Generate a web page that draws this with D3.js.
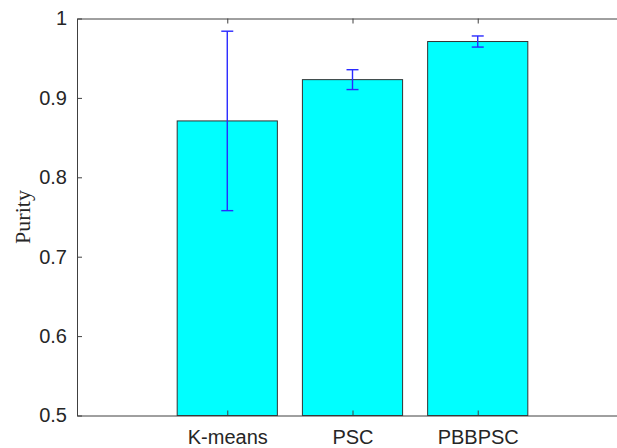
<!DOCTYPE html>
<html>
<head>
<meta charset="utf-8">
<script src="https://cdn.jsdelivr.net/npm/d3@7"></script>
<style>
  body { margin: 0; background: #fff; }
  svg { display: block; }
</style>
</head>
<body>
<div id="chart"></div>
<script>
// Data
const methods = ["K-means", "PSC", "PBBPSC"];
const purity = [0.871, 0.923, 0.971];
const purityStd = [0.113, 0.0125, 0.007];
const yTicks = [0.5, 0.6, 0.7, 0.8, 0.9, 1];

const W = 617, H = 448;
const margin = { top: 18.5, right: -11, bottom: 32.5, left: 77 };
const width = W - margin.left - margin.right;
const height = H - margin.top - margin.bottom;

const svg = d3.select("#chart")
    .append("svg")
    .attr("width", W)
    .attr("height", H);

const g = svg.append("g")
    .attr("transform", "translate(" + margin.left + "," + margin.top + ")");

// x is a position scale over 1..3 (MATLAB-style bar positions)
const x = d3.scaleLinear()
    .domain([-0.2, 4.2])
    .range([0, width]);

const y = d3.scaleLinear()
    .domain([0.5, 1])
    .range([height, 0]);

const barW = x(0.8) - x(0);

// Bars
g.selectAll(".bar")
    .data(purity)
    .enter().append("rect")
    .attr("class", "bar")
    .attr("x", (d, i) => x(i + 1) - barW / 2)
    .attr("y", d => y(d))
    .attr("width", barW)
    .attr("height", d => height - y(d))
    .attr("fill", "#00ffff")
    .attr("stroke", "#333")
    .attr("stroke-width", 1);

// Error bars
const capW = 6;
const err = g.selectAll(".err")
    .data(purity)
    .enter().append("g")
    .attr("class", "err")
    .attr("stroke", "#2a2aff")
    .attr("stroke-width", 1.4);

err.append("line")
    .attr("x1", (d, i) => x(i + 1))
    .attr("x2", (d, i) => x(i + 1))
    .attr("y1", (d, i) => y(d + purityStd[i]))
    .attr("y2", (d, i) => y(d - purityStd[i]));

err.append("line")
    .attr("x1", (d, i) => x(i + 1) - capW)
    .attr("x2", (d, i) => x(i + 1) + capW)
    .attr("y1", (d, i) => y(d + purityStd[i]))
    .attr("y2", (d, i) => y(d + purityStd[i]));

err.append("line")
    .attr("x1", (d, i) => x(i + 1) - capW)
    .attr("x2", (d, i) => x(i + 1) + capW)
    .attr("y1", (d, i) => y(d - purityStd[i]))
    .attr("y2", (d, i) => y(d - purityStd[i]));

// Axes (ticks pointing inward, MATLAB box style)
const axisColor = "#404040";
const tickFont = "'Liberation Sans', Arial, sans-serif";

const xBottom = g.append("g")
    .attr("transform", "translate(0," + height + ")")
    .call(d3.axisBottom(x)
        .tickValues([1, 2, 3])
        .tickFormat((d, i) => methods[i])
        .tickSizeInner(-5)
        .tickSizeOuter(0)
        .tickPadding(14));

const xTop = g.append("g")
    .call(d3.axisTop(x)
        .tickValues([1, 2, 3])
        .tickFormat("")
        .tickSizeInner(-5)
        .tickSizeOuter(0));

const yLeft = g.append("g")
    .call(d3.axisLeft(y)
        .tickValues(yTicks)
        .tickFormat(d3.format("~g"))
        .tickSizeInner(-5)
        .tickSizeOuter(0)
        .tickPadding(10));

[xBottom, xTop, yLeft].forEach(a => {
    a.select(".domain").attr("stroke", axisColor);
    a.selectAll(".tick line").attr("stroke", axisColor);
    a.selectAll("text")
        .attr("fill", "#262626")
        .style("font-family", tickFont)
        .style("font-size", "20px");
});

// Y label
g.append("text")
    .attr("transform", "rotate(-90)")
    .attr("x", -height / 2)
    .attr("y", -margin.left + 30)
    .attr("text-anchor", "middle")
    .attr("fill", "#262626")
    .style("font-family", "'Liberation Serif', 'Times New Roman', serif")
    .style("font-size", "22px")
    .text("Purity");
</script>
</body>
</html>
